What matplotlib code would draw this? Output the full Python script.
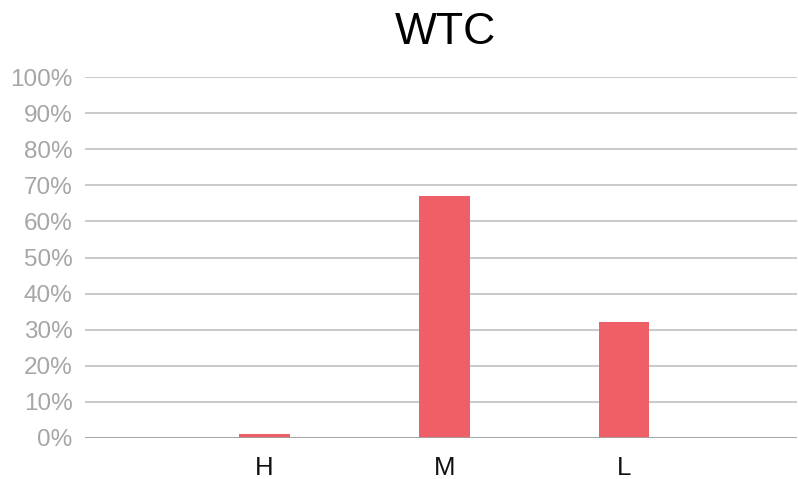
import numpy as np
import matplotlib
matplotlib.use('Agg')
import matplotlib.pyplot as plt
from matplotlib.ticker import FuncFormatter

TITLE = "WTC"
CATEGORIES = ["H", "M", "L"]
SHARES = [0.01, 0.67, 0.32]
Y_TICKS = [0.0, 0.1, 0.2, 0.3, 0.4, 0.5, 0.6, 0.7, 0.8, 0.9, 1.0]

plt.rcParams['font.family'] = ['Liberation Sans', 'DejaVu Sans']

fig = plt.figure(figsize=(7.98, 4.79), dpi=100)
ax = fig.add_axes([85 / 798, 1 - 438 / 479, 712 / 798, 361 / 479])

x = np.arange(len(CATEGORIES))
ax.bar(x, SHARES, width=0.28, color="#ef5f68", zorder=3)

ax.set_ylim(0, 1.0)
ax.set_xlim(-0.997, 2.96)
ax.set_yticks(Y_TICKS)
ax.yaxis.set_major_formatter(FuncFormatter(lambda v, p: "%d%%" % round(v * 100)))
ax.set_xticks(x)
ax.set_xticklabels(CATEGORIES)

ax.grid(axis="y", color="#c0c0c0", linewidth=1.2, zorder=0)
ax.axhline(0, color="#a0a0a0", linewidth=2, zorder=4)
for side in ["top", "right", "left", "bottom"]:
    ax.spines[side].set_visible(False)

ax.tick_params(axis="y", length=0, labelsize=17.5, labelcolor="#a6a6a6", pad=9)
ax.tick_params(axis="x", length=0, labelsize=18.5, labelcolor="#111111", pad=13)

fig.text(445 / 798, 1 - 33 / 479, TITLE, ha="center", va="center", fontsize=32, color="#000000")

plt.savefig("out.png", dpi=100)
plt.close()
